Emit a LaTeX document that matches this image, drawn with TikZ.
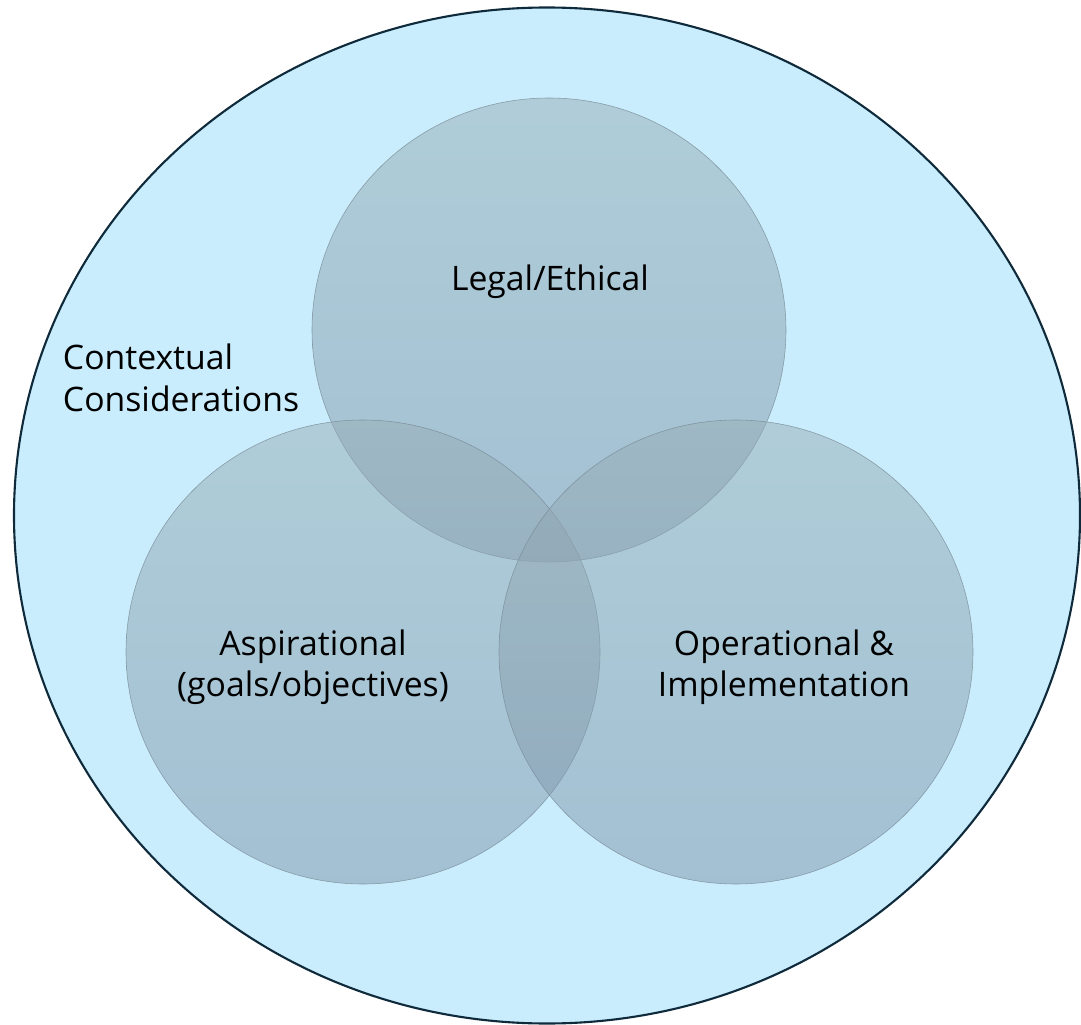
\documentclass[tikz,border=0pt]{standalone}
\usepackage{fontspec}
\setmainfont{Open Sans}
\usetikzlibrary{shapes.geometric}
\definecolor{skyfill}{HTML}{C9EDFC}
\definecolor{skyline}{HTML}{0F2A3A}
\definecolor{ringtop}{RGB}{151,173,182}
\definecolor{ringbot}{RGB}{125,149,170}
\definecolor{ringline}{HTML}{7A8A96}
\tikzset{
  ring/.style={ellipse, draw=ringline, line width=0.4pt, top color=ringtop, bottom color=ringbot,
    fill opacity=0.5, draw opacity=0.8, minimum width=474*0.025cm, minimum height=464*0.025cm, inner sep=0pt},
  lbl/.style={align=center, font=\fontsize{24}{29.5}\selectfont, text=black}
}
\begin{document}
\begin{tikzpicture}[x=0.025cm, y=-0.025cm]

		\useasboundingbox (0,0) rectangle (1081,1025);

		% outer context
		\draw[fill=skyfill, draw=skyline, line width=1.5pt] (547,515.5) ellipse (533 and 508);

		% the three overlapping areas
		\foreach[count=\i] \name/\x/\y in {
				legal/549/330,
				aspir/363/652,
				oper/736/652
			} {
                \node[ring] (\name) at (\x,\y) {};
			}

		\node[lbl, align=left, anchor=west] (context) at (58,378) {Contextual\\Considerations};
		\node[lbl] (legaltxt) at (550,282) {Legal/Ethical};
		\node[lbl] (aspirtxt) at (313,667) {Aspirational\\(goals/objectives)};
		\node[lbl] (opertxt) at (784,667) {Operational \&\\Implementation};
	\end{tikzpicture}
\end{document}
